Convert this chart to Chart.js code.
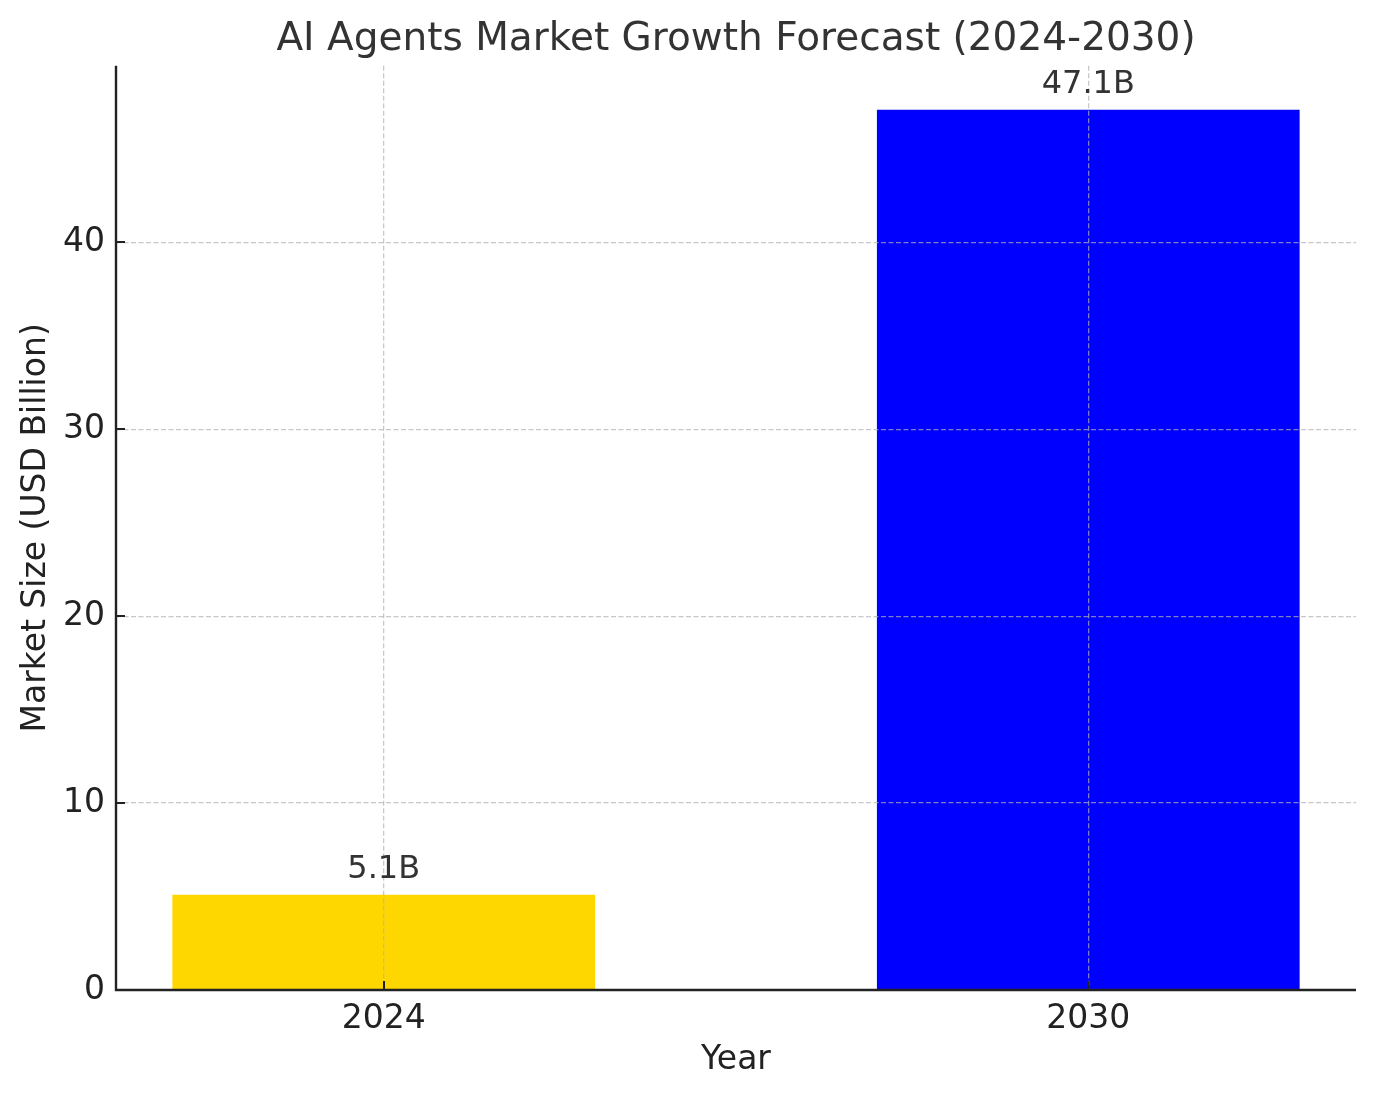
<!DOCTYPE html>
<html>
<head>
<meta charset="utf-8">
<script src="https://cdn.jsdelivr.net/npm/chart.js@4"></script>
<style>
  html, body { margin: 0; padding: 0; background: #ffffff; }
  #wrap { width: 1376px; height: 1097px; }
</style>
</head>
<body>
<div id="wrap"><canvas id="c" width="1376" height="1097"></canvas></div>
<script>
// ---- data ----
const years = ['2024', '2030'];
const marketSize = [5.1, 47.1];
const valueLabels = ['5.1B', '47.1B'];
const yTicks = [0, 10, 20, 30, 40];

// ---- styles ----
const barColors = ['#FFD700', '#0000FF'];
const FONT = "'DejaVu Sans', 'Liberation Sans', sans-serif";
const GRID = 'rgba(176,176,176,0.7)';
const AXIS = '#222222';

const yMax = Math.max(...marketSize) * 1.05;
const xPad = 0.08;

const tickPlugin = {
  id: 'inTicks',
  afterDraw(chart) {
    const ctx = chart.ctx;
    const xs = chart.scales.x, ys = chart.scales.y;
    const ca = chart.chartArea;
    ctx.save();
    ctx.strokeStyle = AXIS;
    ctx.lineWidth = 2;
    ctx.beginPath();
    yTicks.forEach(v => {
      const py = Math.round(ys.getPixelForValue(v));
      ctx.moveTo(ca.left, py);
      ctx.lineTo(ca.left + 9, py);
    });
    years.forEach((y, i) => {
      const px = Math.round(xs.getPixelForValue(i));
      ctx.moveTo(px, ca.bottom);
      ctx.lineTo(px, ca.bottom - 9);
    });
    ctx.stroke();
    // axis spines on top
    ctx.lineWidth = 2.4;
    ctx.beginPath();
    ctx.moveTo(ca.left, ca.top);
    ctx.lineTo(ca.left, ca.bottom);
    ctx.lineTo(ca.right, ca.bottom);
    ctx.stroke();
    // value labels
    const meta = chart.getDatasetMeta(0);
    ctx.fillStyle = '#333333';
    ctx.font = '32px ' + FONT;
    ctx.textAlign = 'center';
    ctx.textBaseline = 'alphabetic';
    meta.data.forEach((bar, i) => {
      ctx.fillText(valueLabels[i], bar.x, bar.y - 17);
    });
    ctx.restore();
  }
};

new Chart(document.getElementById('c'), {
  type: 'bar',
  data: {
    datasets: [{
      data: marketSize.map((v, i) => ({ x: i, y: v })),
      backgroundColor: barColors,
      borderWidth: 0,
      barPercentage: 0.6,
      categoryPercentage: 1.0
    }]
  },
  options: {
    responsive: false,
    animation: false,
    devicePixelRatio: 1,
    layout: { padding: { left: 0, right: 20, top: 0, bottom: 0 } },
    plugins: {
      legend: { display: false },
      tooltip: { enabled: false },
      title: {
        display: true,
        fullSize: false,
        text: 'AI Agents Market Growth Forecast (2024-2030)',
        color: '#333333',
        font: { family: FONT, size: 39, weight: 'normal', lineHeight: 1.2 },
        padding: { top: 16, bottom: 3 }
      }
    },
    scales: {
      x: {
        type: 'linear',
        min: -0.3 - xPad,
        max: (years.length - 1) + 0.3 + xPad,
        offset: false,
        afterBuildTicks(scale) { scale.ticks = years.map((y, i) => ({ value: i })); },
        afterFit(scale) { scale.height = 107; },
        ticks: {
          callback: (v) => years[v] !== undefined ? years[v] : '',
          color: AXIS,
          font: { family: FONT, size: 33 },
          padding: 10,
          maxRotation: 0,
          autoSkip: false
        },
        grid: { color: GRID, lineWidth: 1.3, drawTicks: false, offset: false, z: 1 },
        border: { display: false, dash: [5, 2.5] },
        title: {
          display: true,
          text: 'Year',
          color: AXIS,
          font: { family: FONT, size: 33, lineHeight: 1.2 },
          padding: { top: 3, bottom: 17 }
        }
      },
      y: {
        type: 'linear',
        min: 0,
        max: yMax,
        afterBuildTicks(scale) { scale.ticks = yTicks.map(v => ({ value: v })); },
        afterFit(scale) { scale.width = 116; },
        ticks: {
          color: AXIS,
          font: { family: FONT, size: 33 },
          padding: 11,
          includeBounds: false
        },
        grid: { color: GRID, lineWidth: 1.3, drawTicks: false, offset: false, z: 1 },
        border: { display: false, dash: [5, 2.5] },
        title: {
          display: true,
          text: 'Market Size (USD Billion)',
          color: AXIS,
          font: { family: FONT, size: 33, lineHeight: 1.2 },
          padding: { top: 17, bottom: 0 }
        }
      }
    }
  },
  plugins: [tickPlugin]
});
</script>
</body>
</html>
